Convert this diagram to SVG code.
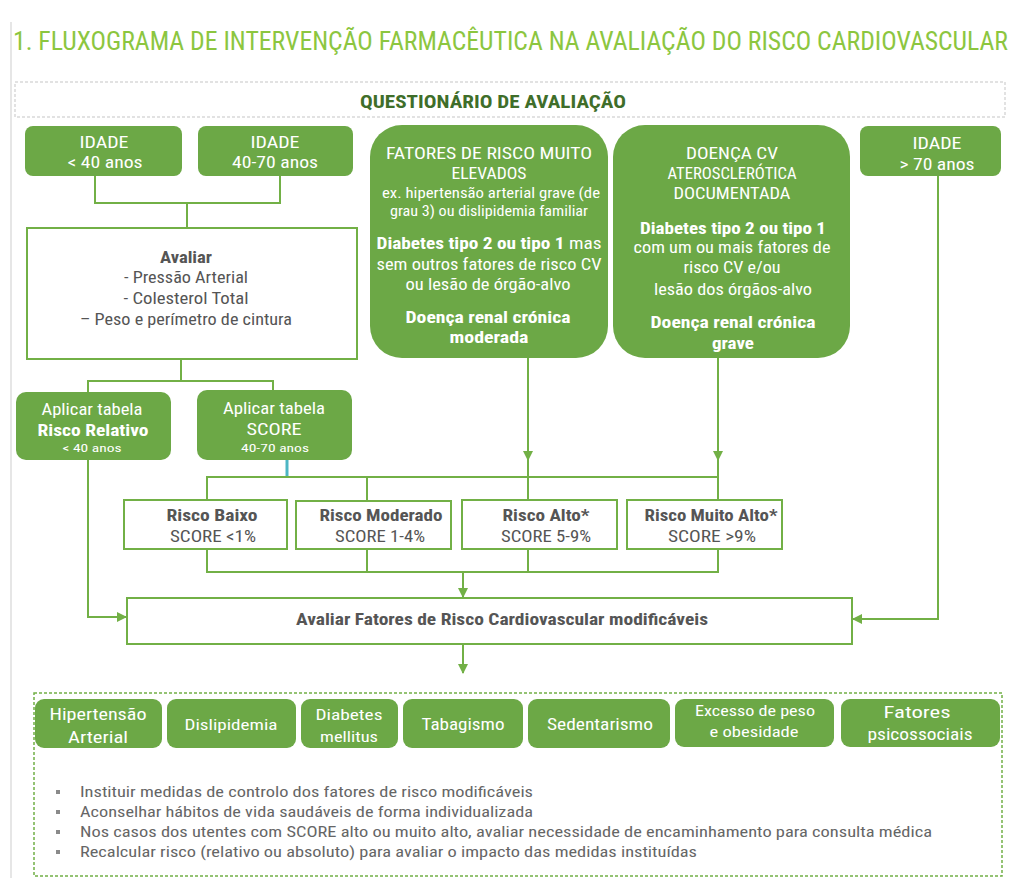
<svg xmlns="http://www.w3.org/2000/svg" width="1014" height="878" viewBox="0 0 1014 878">
<defs>
<style>
text{font-family:"Liberation Sans Narrow","Roboto Condensed","Liberation Sans",Arial,sans-serif;}
.g{fill:#6ca846;}
.w{fill:#fff;font-size:16px;text-anchor:middle;}
.ws{fill:#fff;font-size:14px;text-anchor:middle;}
.k{fill:#555;font-size:16px;text-anchor:middle;}
.b{font-weight:bold;}
.box{fill:#fff;stroke:#72b046;stroke-width:2;}
.ln{fill:none;stroke:#72b046;stroke-width:2;}
.bl{fill:#666;font-size:15px;}
</style>
<marker id="ah" viewBox="0 0 10 10" refX="9" refY="5" markerWidth="10" markerHeight="10" markerUnits="userSpaceOnUse" orient="auto">
<path d="M0,0 L10,5 L0,10 z" fill="#72b046"/>
</marker>
</defs>
<rect width="1014" height="878" fill="#fff"/>
<line x1="11" y1="22" x2="11" y2="878" stroke="#e6e6e6" stroke-width="2"/>
<text x="13" y="50" font-size="25" fill="#8cc63f" textLength="995" lengthAdjust="spacingAndGlyphs">1. FLUXOGRAMA DE INTERVENÇÃO FARMACÊUTICA NA AVALIAÇÃO DO RISCO CARDIOVASCULAR</text>
<rect x="15" y="82" width="990" height="35" fill="none" stroke="#d9d9d9" stroke-width="1.5" stroke-dasharray="3,2"/>
<text x="493" y="108" font-size="19" font-weight="bold" fill="#3f6e2a" text-anchor="middle" textLength="266" lengthAdjust="spacingAndGlyphs">QUESTIONÁRIO DE AVALIAÇÃO</text>

<g id="connectors">
<path class="ln" d="M95,176 V203 H280 V176"/>
<path class="ln" d="M187,203 V228"/>
<path class="ln" d="M181,359 V381"/>
<path class="ln" d="M88,392 V381 H273 V390"/>
<path d="M287,460 V477" stroke="#4db6c4" stroke-width="3" fill="none"/>
<path class="ln" d="M207,500 V477 H718"/>
<path class="ln" d="M367,477 V500"/>
<path class="ln" d="M528,358 V460" marker-end="url(#ah)"/>
<path class="ln" d="M528,455 V500"/>
<path class="ln" d="M718,358 V460" marker-end="url(#ah)"/>
<path class="ln" d="M718,455 V500"/>
<path class="ln" d="M207,549 V572 H718 V549"/>
<path class="ln" d="M367,549 V572"/>
<path class="ln" d="M528,549 V572"/>
<path class="ln" d="M463,572 V597" marker-end="url(#ah)"/>
<path class="ln" d="M88,460 V617 H126" marker-end="url(#ah)"/>
<path class="ln" d="M938,176 V619 H853" marker-end="url(#ah)"/>
<path class="ln" d="M463,644 V673" marker-end="url(#ah)"/>
</g>

<g id="idade-lt40">
<rect class="g" x="25" y="126" width="157" height="50" rx="8"/>
<text class="w" x="104" y="148" textLength="49" lengthAdjust="spacingAndGlyphs">IDADE</text>
<text class="w" x="105" y="168" textLength="75" lengthAdjust="spacingAndGlyphs">&lt; 40 anos</text>
</g>
<g id="idade-40-70">
<rect class="g" x="198" y="126" width="155" height="50" rx="8"/>
<text class="w" x="275" y="148" textLength="49" lengthAdjust="spacingAndGlyphs">IDADE</text>
<text class="w" x="275" y="168" textLength="86" lengthAdjust="spacingAndGlyphs">40-70 anos</text>
</g>
<g id="fatores-risco">
<rect class="g" x="370" y="125" width="238" height="233" rx="32"/>
<text class="w" x="489" y="159" style="font-size:17px" textLength="206" lengthAdjust="spacingAndGlyphs">FATORES DE RISCO MUITO</text>
<text class="w" x="489" y="179" style="font-size:17px" textLength="75" lengthAdjust="spacingAndGlyphs">ELEVADOS</text>
<text class="ws" x="491" y="198" textLength="218" lengthAdjust="spacingAndGlyphs">ex. hipertensão arterial grave (de</text>
<text class="ws" x="489" y="216" textLength="198" lengthAdjust="spacingAndGlyphs">grau 3) ou dislipidemia familiar</text>
<text class="w" x="489" y="249" textLength="225" lengthAdjust="spacingAndGlyphs"><tspan class="b">Diabetes tipo 2 ou tipo 1</tspan> mas</text>
<text class="w" x="489" y="270" textLength="225" lengthAdjust="spacingAndGlyphs">sem outros fatores de risco CV</text>
<text class="w" x="488" y="290" textLength="165" lengthAdjust="spacingAndGlyphs">ou lesão de órgão-alvo</text>
<text class="w b" x="488" y="323" textLength="165" lengthAdjust="spacingAndGlyphs">Doença renal crónica</text>
<text class="w b" x="489" y="343" textLength="79" lengthAdjust="spacingAndGlyphs">moderada</text>
</g>
<g id="doenca-cv">
<rect class="g" x="613" y="125" width="237" height="233" rx="32"/>
<text class="w" x="732" y="159" style="font-size:17px" textLength="92" lengthAdjust="spacingAndGlyphs">DOENÇA CV</text>
<text class="w" x="732" y="179" style="font-size:17px" textLength="129" lengthAdjust="spacingAndGlyphs">ATEROSCLERÓTICA</text>
<text class="w" x="732" y="199" style="font-size:17px" textLength="117" lengthAdjust="spacingAndGlyphs">DOCUMENTADA</text>
<text class="w b" x="733" y="234" textLength="186" lengthAdjust="spacingAndGlyphs">Diabetes tipo 2 ou tipo 1</text>
<text class="w" x="732" y="253" textLength="197" lengthAdjust="spacingAndGlyphs">com um ou mais fatores de</text>
<text class="w" x="732" y="273" textLength="97" lengthAdjust="spacingAndGlyphs">risco CV e/ou</text>
<text class="w" x="733" y="295" textLength="158" lengthAdjust="spacingAndGlyphs">lesão dos órgãos-alvo</text>
<text class="w b" x="733" y="328" textLength="165" lengthAdjust="spacingAndGlyphs">Doença renal crónica</text>
<text class="w b" x="733" y="349" textLength="42" lengthAdjust="spacingAndGlyphs">grave</text>
</g>
<g id="idade-gt70">
<rect class="g" x="860" y="126" width="141" height="50" rx="8"/>
<text class="w" x="937" y="149" textLength="49" lengthAdjust="spacingAndGlyphs">IDADE</text>
<text class="w" x="937" y="170" textLength="75" lengthAdjust="spacingAndGlyphs">&gt; 70 anos</text>
</g>
<g id="avaliar">
<rect class="box" x="27" y="228" width="330" height="131"/>
<text class="k b" x="186" y="263" textLength="52" lengthAdjust="spacingAndGlyphs">Avaliar</text>
<text class="k" x="186" y="283" textLength="124" lengthAdjust="spacingAndGlyphs">- Pressão Arterial</text>
<text class="k" x="186" y="304" textLength="125" lengthAdjust="spacingAndGlyphs">- Colesterol Total</text>
<text class="k" x="186" y="325" textLength="212" lengthAdjust="spacingAndGlyphs">– Peso e perímetro de cintura</text>
</g>
<g id="tabela-risco-relativo">
<rect class="g" x="16" y="392" width="155" height="68" rx="10"/>
<text class="w" x="92" y="415" textLength="101" lengthAdjust="spacingAndGlyphs">Aplicar tabela</text>
<text class="w b" x="93" y="436" textLength="111" lengthAdjust="spacingAndGlyphs">Risco Relativo</text>
<text class="ws" x="92" y="452" style="font-size:11px" textLength="59" lengthAdjust="spacingAndGlyphs">&lt; 40 anos</text>
</g>
<g id="tabela-score">
<rect class="g" x="197" y="390" width="155" height="70" rx="10"/>
<text class="w" x="274" y="414" textLength="102" lengthAdjust="spacingAndGlyphs">Aplicar tabela</text>
<text class="w" x="274" y="435" style="font-size:17px" textLength="55" lengthAdjust="spacingAndGlyphs">SCORE</text>
<text class="ws" x="275" y="452" style="font-size:11px" textLength="68" lengthAdjust="spacingAndGlyphs">40-70 anos</text>
</g>
<g id="risco-baixo">
<rect class="box" x="124" y="500" width="163" height="49"/>
<text class="k b" x="212" y="521" textLength="91" lengthAdjust="spacingAndGlyphs">Risco Baixo</text>
<text class="k" x="213" y="542" textLength="86" lengthAdjust="spacingAndGlyphs">SCORE &lt;1%</text>
</g>
<g id="risco-moderado">
<rect class="box" x="296" y="501" width="155" height="48"/>
<text class="k b" x="381" y="521" textLength="123" lengthAdjust="spacingAndGlyphs">Risco Moderado</text>
<text class="k" x="380" y="542" textLength="90" lengthAdjust="spacingAndGlyphs">SCORE 1-4%</text>
</g>
<g id="risco-alto">
<rect class="box" x="462" y="500" width="155" height="49"/>
<text class="k b" x="546" y="521" textLength="87" lengthAdjust="spacingAndGlyphs">Risco Alto*</text>
<text class="k" x="546" y="542" textLength="90" lengthAdjust="spacingAndGlyphs">SCORE 5-9%</text>
</g>
<g id="risco-muito-alto">
<rect class="box" x="627" y="500" width="155" height="49"/>
<text class="k b" x="711" y="521" textLength="133" lengthAdjust="spacingAndGlyphs">Risco Muito Alto*</text>
<text class="k" x="712" y="542" textLength="88" lengthAdjust="spacingAndGlyphs">SCORE &gt;9%</text>
</g>
<g id="avaliar-fatores">
<rect class="box" x="127" y="598" width="725" height="46"/>
<text class="k b" x="502" y="625" textLength="412" lengthAdjust="spacingAndGlyphs">Avaliar Fatores de Risco Cardiovascular modificáveis</text>
</g>
<g id="fatores-modificaveis">
<rect x="34" y="693" width="968" height="183" fill="none" stroke="#72b046" stroke-width="1.5" stroke-dasharray="3,2"/>
<g id="hipertensao">
<rect class="g" x="35" y="699" width="127" height="49" rx="9"/>
<text class="w" x="98" y="720" textLength="97" lengthAdjust="spacingAndGlyphs">Hipertensão</text>
<text class="w" x="98" y="743" textLength="60" lengthAdjust="spacingAndGlyphs">Arterial</text>
</g>
<g id="dislipidemia">
<rect class="g" x="167" y="699" width="129" height="49" rx="9"/>
<text class="ws" x="231" y="730" textLength="93" lengthAdjust="spacingAndGlyphs">Dislipidemia</text>
</g>
<g id="diabetes">
<rect class="g" x="301" y="699" width="97" height="49" rx="9"/>
<text class="ws" x="349" y="720" textLength="67" lengthAdjust="spacingAndGlyphs">Diabetes</text>
<text class="ws" x="349" y="742" textLength="58" lengthAdjust="spacingAndGlyphs">mellitus</text>
</g>
<g id="tabagismo">
<rect class="g" x="403" y="699" width="120" height="49" rx="9"/>
<text class="w" x="463" y="730" textLength="83" lengthAdjust="spacingAndGlyphs">Tabagismo</text>
</g>
<g id="sedentarismo">
<rect class="g" x="528" y="699" width="142" height="49" rx="9"/>
<text class="w" x="600" y="730" textLength="106" lengthAdjust="spacingAndGlyphs">Sedentarismo</text>
</g>
<g id="excesso-peso">
<rect class="g" x="675" y="699" width="159" height="48" rx="9"/>
<text class="ws" x="755" y="716" textLength="120" lengthAdjust="spacingAndGlyphs">Excesso de peso</text>
<text class="ws" x="754" y="737" textLength="89" lengthAdjust="spacingAndGlyphs">e obesidade</text>
</g>
<g id="psicossociais">
<rect class="g" x="841" y="699" width="159" height="48" rx="9"/>
<text class="w" x="917" y="718" textLength="67" lengthAdjust="spacingAndGlyphs">Fatores</text>
<text class="w" x="920" y="740" textLength="105" lengthAdjust="spacingAndGlyphs">psicossociais</text>
</g>
<g fill="#8a8a8a">
<rect x="56" y="790" width="4" height="4"/>
<rect x="56" y="810" width="4" height="4"/>
<rect x="56" y="830" width="4" height="4"/>
<rect x="56" y="850" width="4" height="4"/>
</g>
<text class="bl" x="80" y="797" textLength="453" lengthAdjust="spacingAndGlyphs">Instituir medidas de controlo dos fatores de risco modificáveis</text>
<text class="bl" x="80" y="817" textLength="453" lengthAdjust="spacingAndGlyphs">Aconselhar hábitos de vida saudáveis de forma individualizada</text>
<text class="bl" x="80" y="837" textLength="852" lengthAdjust="spacingAndGlyphs">Nos casos dos utentes com SCORE alto ou muito alto, avaliar necessidade de encaminhamento para consulta médica</text>
<text class="bl" x="80" y="857" textLength="617" lengthAdjust="spacingAndGlyphs">Recalcular risco (relativo ou absoluto) para avaliar o impacto das medidas instituídas</text>
</g>
</svg>
